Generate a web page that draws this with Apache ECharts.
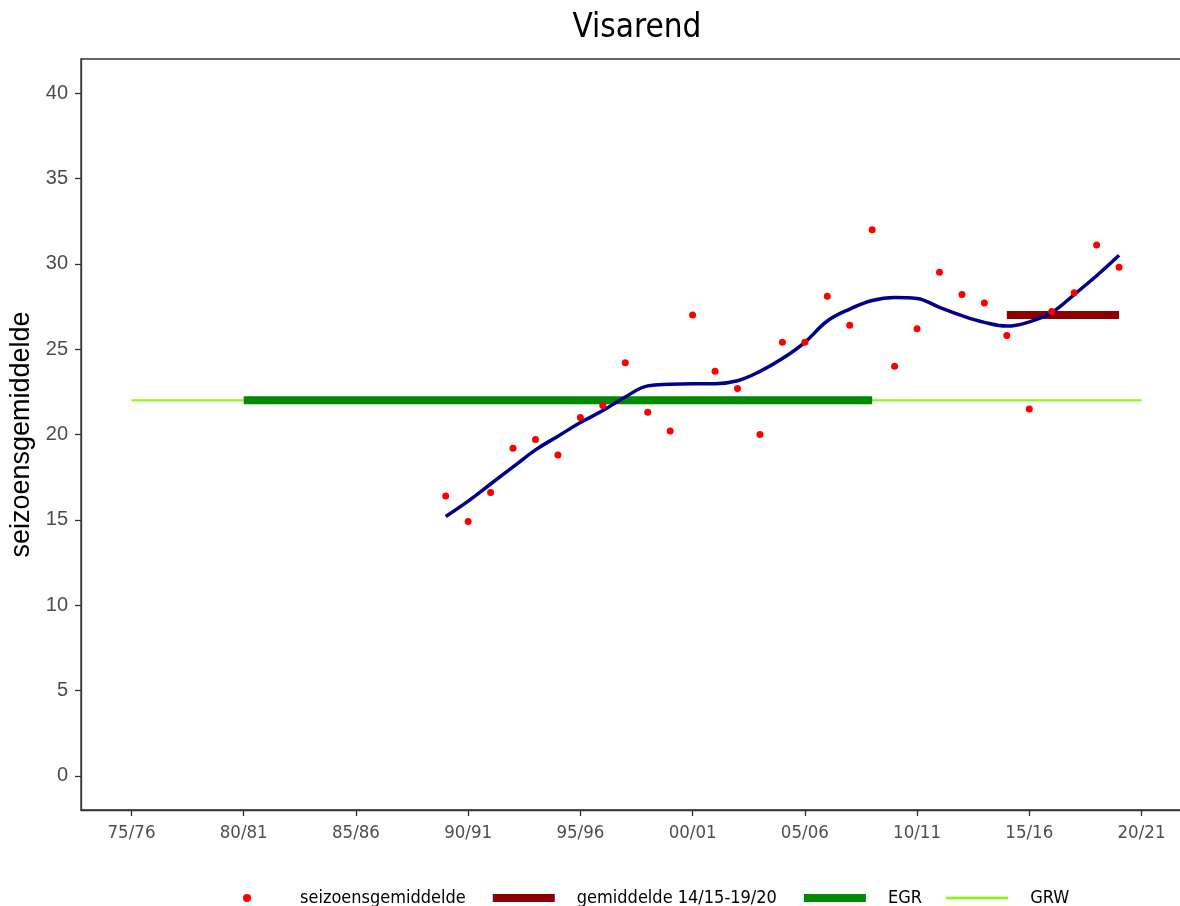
<!DOCTYPE html>
<html>
<head>
<meta charset="utf-8">
<script src="https://cdn.jsdelivr.net/npm/echarts@6/dist/echarts.min.js"></script>
<style>
html,body{margin:0;padding:0;background:#fff;}
#c{width:1180px;height:906px;}
</style>
</head>
<body>
<div id="c"></div>
<script>
// ---- data ----
var years = [1989,1990,1991,1992,1993,1994,1995,1996,1997,1998,1999,2000,2001,2002,2003,2004,2005,2006,2007,2008,2009,2010,2011,2012,2013,2014,2015,2016,2017,2018,2019];
var seasonAvg = [16.4,14.9,16.6,19.2,19.7,18.8,21.0,21.7,24.2,21.3,20.2,27.0,23.7,22.7,20.0,25.4,25.4,28.1,26.4,32.0,24.0,26.2,29.5,28.2,27.7,25.8,21.5,27.2,28.3,31.1,29.8];
var trend = [15.2,16.1,17.1,18.1,19.1,19.9,20.7,21.4,22.2,22.85,22.95,22.98,22.98,23.15,23.7,24.45,25.4,26.65,27.35,27.85,28.03,27.97,27.45,26.96,26.57,26.35,26.6,27.15,28.2,29.3,30.5];
var periodYears = [2014, 2019];
var periodAvg = 27.0;
var egrYears = [1980, 2008];
var egrValue = 22;
var grwYears = [1975, 2020];
var grwValue = 22;
var xTicks = [1975,1980,1985,1990,1995,2000,2005,2010,2015,2020];
var yTicks = [0,5,10,15,20,25,30,35,40];
var names = ['seizoensgemiddelde','gemiddelde 14/15-19/20','EGR','GRW'];

function pair(xs, v){ return xs.map(function(x){ return [x, v]; }); }
function seasonLabel(y){
  var a = y % 100, b = (y + 1) % 100;
  return (a < 10 ? '0' : '') + a + '/' + (b < 10 ? '0' : '') + b;
}

var condensed = '"Liberation Sans Narrow","DejaVu Sans Condensed","Roboto Condensed",Arial,sans-serif';
var sans = '"Liberation Sans",Arial,sans-serif';
var chart = echarts.init(document.getElementById('c'), null, {renderer:'canvas'});
chart.setOption({
  animation: false,
  backgroundColor: '#ffffff',
  title: {
    text: 'Visarend', left: 632, top: 7, textAlign: 'center',
    textStyle: {fontFamily: condensed, fontSize: 33, fontWeight: 'normal', color: '#000'}
  },
  grid: {left: 81, right: -12, top: 59, bottom: 96, show: true, borderColor: '#333', borderWidth: 1.3,
    containLabel: false, outerBoundsMode: 'none'},
  legend: {
    bottom: -6, left: 238, itemWidth: 62, itemHeight: 8, itemGap: 23,
    textStyle: {fontFamily: condensed, fontSize: 18, color: '#000', padding: [0,0,0,17]},
    data: [
      {name: names[0], icon: 'circle'},
      {name: names[1], itemStyle: {opacity: 0}, lineStyle: {width: 8, cap: 'butt'}},
      {name: names[2], itemStyle: {opacity: 0}, lineStyle: {width: 8, cap: 'butt'}},
      {name: names[3], itemStyle: {opacity: 0}, lineStyle: {width: 2.5, cap: 'butt'}}
    ]
  },
  xAxis: {
    type: 'value', min: 1972.75, max: 2022.25,
    splitLine: {show: false},
    axisLine: {show: true, onZero: false, lineStyle: {color: '#333', width: 1.3}},
    axisTick: {show: true, length: 6, customValues: xTicks, lineStyle: {color: '#333', width: 1.3}},
    axisLabel: {customValues: xTicks, formatter: function(v){ return seasonLabel(v); }, margin: 14,
      fontFamily: condensed, fontSize: 18.5, color: '#4d4d4d'}
  },
  yAxis: {
    type: 'value', min: -2, max: 42,
    name: 'seizoensgemiddelde', nameLocation: 'middle', nameGap: 35, nameRotate: 90,
    nameTextStyle: {fontFamily: sans, fontSize: 27, color: '#000'},
    splitLine: {show: false},
    axisLine: {show: true, onZero: false, lineStyle: {color: '#333', width: 1.3}},
    axisTick: {show: true, length: 6, customValues: yTicks, lineStyle: {color: '#333', width: 1.3}},
    axisLabel: {customValues: yTicks, margin: 13, fontFamily: sans, fontSize: 20, color: '#4d4d4d'}
  },
  series: [
    {name: names[3], type: 'line', data: pair(grwYears, grwValue), symbol: 'none', silent: true, z: 1,
      lineStyle: {color: '#7FFF00', width: 2}, itemStyle: {color: '#7FFF00'}},
    {name: names[2], type: 'line', data: pair(egrYears, egrValue), symbol: 'none', silent: true, z: 2,
      lineStyle: {color: '#008B00', width: 8, cap: 'butt'}, itemStyle: {color: '#008B00'}},
    {name: names[1], type: 'line', data: pair(periodYears, periodAvg), symbol: 'none', silent: true, z: 3,
      lineStyle: {color: '#8B0000', width: 8, cap: 'butt'}, itemStyle: {color: '#8B0000'}},
    {name: 'trend', type: 'line', data: years.map(function(y,i){ return [y, trend[i]]; }), symbol: 'none', smooth: 0.4, silent: true, z: 4,
      lineStyle: {color: '#00008B', width: 3.5}},
    {name: names[0], type: 'scatter', data: years.map(function(y,i){ return [y, seasonAvg[i]]; }), symbol: 'circle', symbolSize: 7, z: 5,
      itemStyle: {color: '#FF0000', opacity: 1}}
  ]
});
</script>
</body>
</html>
